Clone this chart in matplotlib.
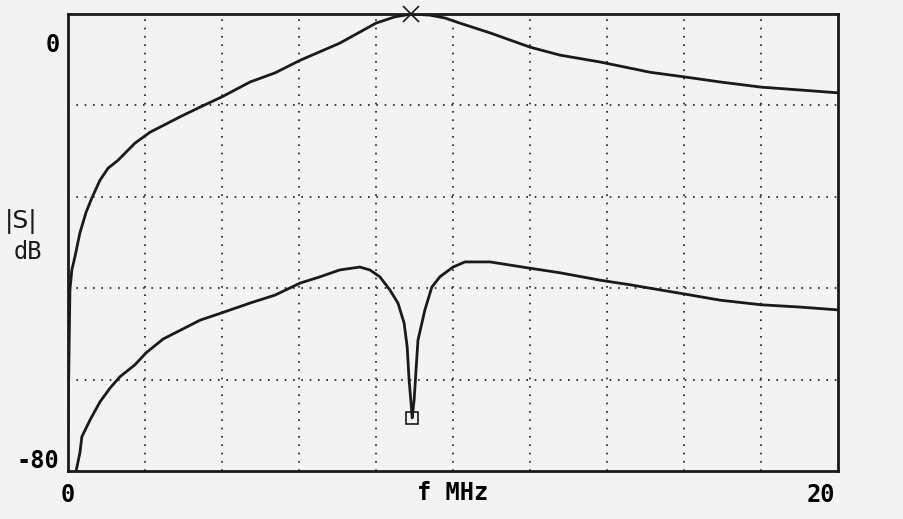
import matplotlib
matplotlib.use("Agg")
import matplotlib.pyplot as plt
import matplotlib.transforms as mtransforms
import numpy as np

# ---- data ----
f_upper = [0.0, 0.05, 0.10, 0.18, 0.31, 0.47, 0.62, 0.83, 1.04, 1.30, 1.74, 2.13,
           2.91, 3.43, 4.0, 4.73, 5.38, 6.03, 7.06, 8.0, 8.49, 8.91, 9.40, 9.79,
           10.18, 10.96, 12.0, 12.78, 13.82, 15.12, 16.0, 16.94, 18.0, 19.01, 20.0]
s_upper = [-72.3, -48.3, -44.8, -42.5, -38.3, -34.7, -32.2, -29.1, -27.0, -25.6, -22.6, -20.7,
           -18.0, -16.3, -14.5, -11.9, -10.3, -8.1, -5.1, -1.6, -0.5, 0.0, -0.2, -0.7,
           -1.6, -3.3, -5.8, -7.2, -8.4, -10.2, -11.0, -11.9, -12.8, -13.3, -13.8]

f_lower = [0.21, 0.31, 0.36, 0.57, 0.83, 1.09, 1.35, 1.74, 2.03, 2.47, 3.43, 4.0,
           4.73, 5.38, 6.03, 6.55, 7.06, 7.58, 7.84, 8.10, 8.36, 8.57, 8.73, 8.81,
           8.86, 8.91, 8.94, 8.99, 9.04, 9.09, 9.27, 9.45, 9.66, 10.0, 10.31, 10.96,
           12.0, 12.78, 13.82, 14.6, 15.38, 16.0, 16.94, 18.0, 19.01, 20.0]
s_lower = [-80.0, -76.8, -74.0, -71.1, -67.9, -65.5, -63.5, -61.4, -59.3, -56.9, -53.6, -52.3,
           -50.6, -49.2, -47.1, -46.0, -44.8, -44.3, -44.8, -46.0, -48.3, -50.6, -54.1, -58.3,
           -64.1, -68.1, -70.7, -67.6, -62.3, -57.1, -51.8, -47.8, -46.0, -44.3, -43.4, -43.4,
           -44.5, -45.3, -46.6, -47.4, -48.3, -49.0, -50.1, -50.9, -51.3, -51.8]

x_ticks = [0, 20]
x_ticklabels = ["0", "20"]
y_ticks = [0, -80]
y_ticklabels = ["0", "-80"]

# ---- figure ----
W, H, DPI = 904, 519, 100
bg = "#f3f3f3"
ink = "#1a1a1a"
fig = plt.figure(figsize=(W / DPI, H / DPI), dpi=DPI, facecolor=bg)
L, R, T, B = 68, 838, 14, 471
ax = fig.add_axes([L / W, 1 - B / H, (R - L) / W, (B - T) / H], facecolor=bg)

font = dict(family="DejaVu Sans Mono", weight="bold", size=17)

ax.plot(f_upper, s_upper, color=ink, lw=2.0, solid_joinstyle="round", zorder=3)
ax.plot(f_lower, s_lower, color=ink, lw=2.0, solid_joinstyle="round", zorder=3)

# markers: peak of upper curve (x) and notch of lower curve (square)
iu = int(np.argmax(s_upper))
il = int(np.argmin(s_lower[5:])) + 5
ax.plot([f_upper[iu]], [s_upper[iu]], marker="x", ms=11, mew=1.2, color=ink,
        clip_on=False, zorder=4)
ax.plot([f_lower[il]], [s_lower[il]], marker="s", ms=8, mew=1.2, mfc="none",
        color=ink, clip_on=False, zorder=4)

ax.set_xlim(0, 20)
ax.set_ylim(-80, 0)

# grid
ax.set_xticks(np.arange(2, 20, 2), minor=True)
ax.set_yticks(np.arange(-64, 0, 16), minor=True)
ax.grid(which="minor", color=ink, linestyle=(0, (1, 4)), linewidth=1.2)
ax.tick_params(which="both", length=0)

for s in ax.spines.values():
    s.set_linewidth(2.0)
    s.set_color(ink)

ax.set_xticks(x_ticks)
ax.set_xticklabels(x_ticklabels, fontdict=font)
ax.set_yticks(y_ticks)
ax.set_yticklabels(y_ticklabels, fontdict=font)
ax.tick_params(axis="x", pad=9)
ax.tick_params(axis="y", pad=6)

xl = ax.get_xticklabels()
xl[1].set_horizontalalignment("right")
xl[1].set_transform(xl[1].get_transform() + mtransforms.ScaledTranslation(-3 / DPI, 0, fig.dpi_scale_trans))
yl = ax.get_yticklabels()
yl[0].set_transform(yl[0].get_transform() + mtransforms.ScaledTranslation(0, -29 / DPI, fig.dpi_scale_trans))
yl[1].set_transform(yl[1].get_transform() + mtransforms.ScaledTranslation(0, 12 / DPI, fig.dpi_scale_trans))

ax.set_xlabel("f MHz", fontdict=font)
ax.xaxis.set_label_coords(0.5, -0.022)
ax.xaxis.label.set_verticalalignment("top")

fig.text(21 / W, 1 - 222 / H, "|S|", ha="center", va="center",
         family="DejaVu Sans", size=18, color=ink)
fig.text(28 / W, 1 - 252 / H, "dB", ha="center", va="center",
         family="DejaVu Sans Mono", size=17, color=ink)

fig.savefig("out.png", dpi=DPI, facecolor=bg)
